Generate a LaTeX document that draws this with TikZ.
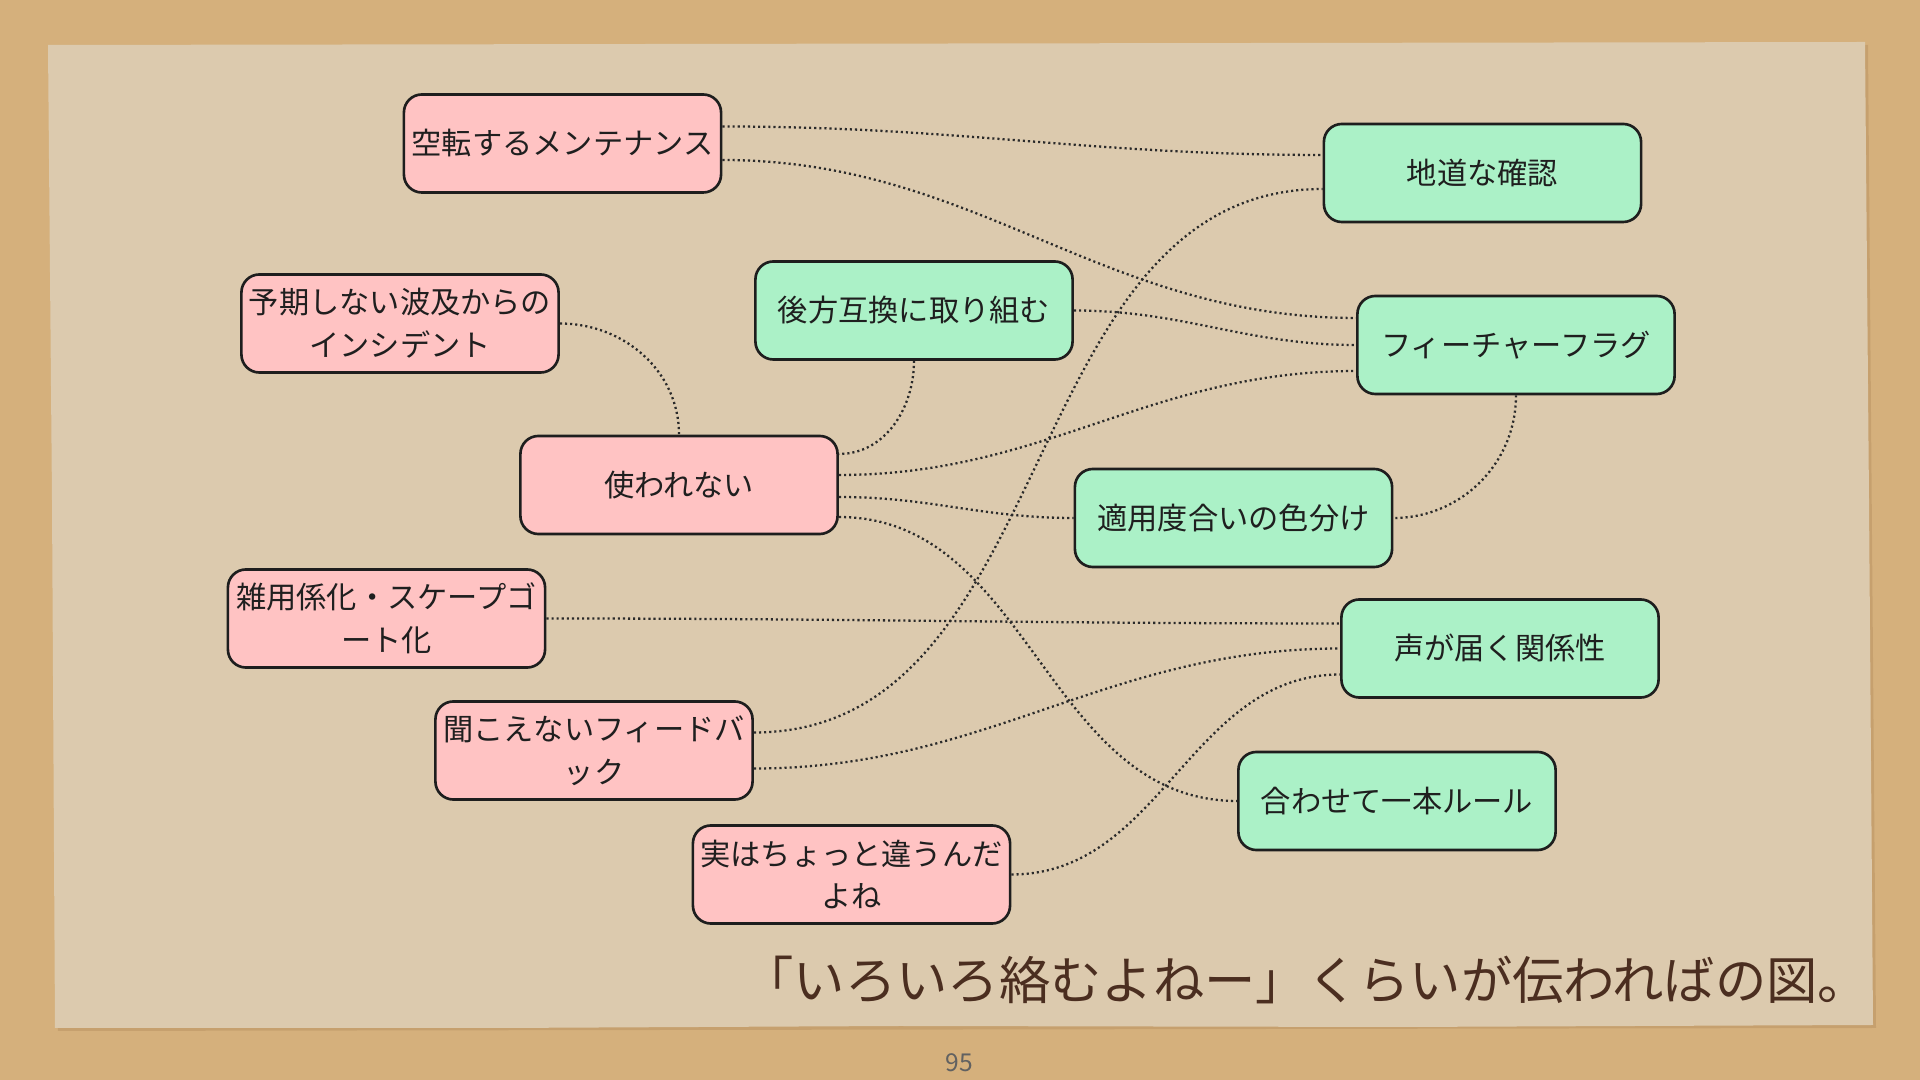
\documentclass[tikz,border=0pt]{standalone}
\usepackage{fontspec}
\setmainfont{Noto Sans CJK JP}
\usetikzlibrary{calc}
\definecolor{sand}{HTML}{D5B07C}
\definecolor{paper}{HTML}{DCCAAE}
\definecolor{papershadow}{HTML}{B08A5A}
\definecolor{pinkfill}{HTML}{FFC3C3}
\definecolor{greenfill}{HTML}{ABF1C7}
\definecolor{boxline}{HTML}{1E1E1E}
\definecolor{connline}{HTML}{2A2A2A}
\definecolor{captioncol}{HTML}{4B2E20}
\tikzset{
  box/.style={draw=boxline, line width=0.75pt, rounded corners=0.18cm,
    minimum width=3.17cm, minimum height=0.98cm, inner sep=0pt, align=center,
    text=black!88, font=\fontsize{8.6pt}{12.2pt}\selectfont},
  pinkbox/.style={box, fill=pinkfill},
  greenbox/.style={box, fill=greenfill},
  conn/.style={draw=connline, line width=0.65pt, dash pattern=on 0.6pt off 0.85pt},
}
\begin{document}
\begin{tikzpicture}[x=0.01cm, y=-0.01cm]
\useasboundingbox (0,0) rectangle (1920,1080);
\fill[sand] (0,0) rectangle (1920,1080);
% paper
\fill[papershadow, opacity=0.4] (51,48) -- (1868,45) -- (1876,1028) -- (58,1031) -- cycle;
\fill[paper] (48,45) -- (1865,42) -- (1869,500) -- (1873,1025) -- (1400,1027) -- (900,1026) -- (500,1028) -- (55,1028) -- (52,500) -- cycle;

% nodes
\node[pinkbox] (kuten) at (562.5,143.5) {空転するメンテナンス};
\node[pinkbox] (yoki) at (400,323.5) {予期しない波及からの\\インシデント};
\node[greenbox] (kouhou) at (914,310.5) {後方互換に取り組む};
\node[pinkbox] (tsukawa) at (679,485) {使われない};
\node[pinkbox] (zatsuyou) at (386.5,618.5) {雑用係化・スケープゴ\\ート化};
\node[pinkbox] (kikoe) at (594,750.5) {聞こえないフィードバ\\ック};
\node[pinkbox] (jitsu) at (851.5,874.5) {実はちょっと違うんだ\\よね};
\node[greenbox] (jimichi) at (1482.5,173) {地道な確認};
\node[greenbox] (ff) at (1516,345) {フィーチャーフラグ};
\node[greenbox] (tekiyou) at (1233.5,518) {適用度合いの色分け};
\node[greenbox] (koe) at (1500,648.5) {声が届く関係性};
\node[greenbox] (awase) at (1397,801) {合わせて一本ルール};

% connectors
\draw[conn] ([yshift=0.17cm]kuten.east) to[out=0,in=180] ([yshift=0.18cm]jimichi.west);
\draw[conn] ([yshift=-0.165cm]kuten.east) to[out=0,in=180] ([yshift=0.27cm]ff.west);
\draw[conn] (yoki.east) to[out=0,in=90] (tsukawa.north);
\draw[conn] (kouhou.south) to[out=-90,in=0] ([yshift=0.31cm]tsukawa.east);
\draw[conn] (kouhou.east) to[out=0,in=180] (ff.west);
\draw[conn] ([yshift=0.10cm]tsukawa.east) to[out=0,in=180] ([yshift=-0.26cm]ff.west);
\draw[conn] ([yshift=-0.12cm]tsukawa.east) to[out=0,in=180] (tekiyou.west);
\draw[conn] ([yshift=-0.32cm]tsukawa.east) to[out=0,in=180] (awase.west);
\draw[conn] (zatsuyou.east) to[out=0,in=180] ([yshift=0.25cm]koe.west);
\draw[conn] ([yshift=0.18cm]kikoe.east) to[out=0,in=180] ([yshift=-0.16cm]jimichi.west);
\draw[conn] ([yshift=-0.18cm]kikoe.east) to[out=0,in=180] (koe.west);
\draw[conn] (jitsu.east) to[out=0,in=180] ([yshift=-0.26cm]koe.west);
\draw[conn] (ff.south) to[out=-90,in=0] (tekiyou.east);

% caption and page number
\node[anchor=east, inner sep=0pt, text=captioncol, font=\fontsize{14.6pt}{16pt}\selectfont] (caption) at (1870,980) {「いろいろ絡むよねー」くらいが伝わればの図。};
\node[inner sep=0pt, text=black!62, font=\fontsize{7pt}{8pt}\selectfont] (pagenum) at (959,1063) {95};
\end{tikzpicture}
\end{document}
